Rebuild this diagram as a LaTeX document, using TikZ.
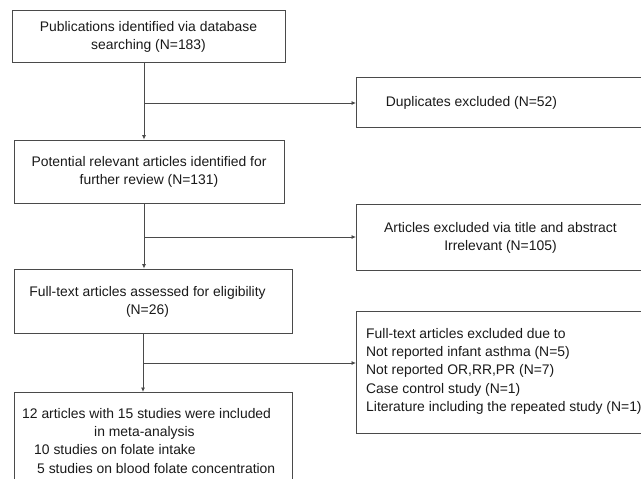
\documentclass[tikz,border=0pt]{standalone}
\usepackage{fontspec}
\setmainfont{Liberation Sans}
\usetikzlibrary{arrows.meta}
\definecolor{linec}{HTML}{4A4A4A}
\definecolor{textc}{HTML}{1A1A1A}
\begin{document}
\begin{tikzpicture}[x=1pt,y=-1pt,
  box/.style={draw=linec, line width=0.9pt, rectangle, inner sep=0pt},
  txt/.style={inner sep=0pt, text=textc, font=\fontsize{13.9}{18.3}\selectfont},
  arr/.style={draw=linec, line width=0.8pt, -{Latex[length=4.5pt,width=4pt]}},
  ln/.style={draw=linec, line width=0.8pt}]
\useasboundingbox (0,0) rectangle (641,479);
\clip (0,0) rectangle (641,479);
\fill[white] (0,0) rectangle (641,479);

% left column boxes
\node[box, minimum width=273pt, minimum height=52pt] (b1) at (148.5,36) {};
\node[txt, align=center] (t1) at (148.5,37) {Publications identified via database\\searching (N=183)};

\node[box, minimum width=270pt, minimum height=63pt] (b2) at (149,171.5) {};
\node[txt, align=center] (t2) at (149,172) {Potential relevant articles identified for\\further review (N=131)};

\node[box, minimum width=278pt, minimum height=64pt] (b3) at (153,301) {};
\node[txt, align=center] (t3) at (147.5,302) {Full-text articles assessed for eligibility\\(N=26)};

\node[box, minimum width=278pt, minimum height=110pt, anchor=north west] (b4) at (14,392) {};
\node[txt, align=left, anchor=north west] (t4) at (22,408) {12 articles with 15 studies were included\\
\hspace*{72pt}in meta-analysis\\
\hspace*{12pt}10 studies on folate intake\\
\hspace*{15pt}5 studies on blood folate concentration};

% right column boxes
\node[box, minimum width=289pt, minimum height=49.5pt, anchor=west] (d1) at (356,102.25) {};
\node[txt] (s1) at (471.5,103) {Duplicates excluded (N=52)};

\node[box, minimum width=289pt, minimum height=66pt, anchor=west] (d2) at (356,237) {};
\node[txt, align=center] (s2) at (500.5,238) {Articles excluded via title and abstract\\Irrelevant (N=105)};

\node[box, minimum width=289pt, minimum height=122pt, anchor=west] (d3) at (356,372) {};
\node[txt, align=left, anchor=north west] (s3) at (366,328) {Full-text articles excluded due to\\
Not reported infant asthma (N=5)\\
Not reported OR,RR,PR (N=7)\\
Case control study (N=1)\\
Literature including the repeated study (N=1)};

% spine and junctions
\coordinate (sp1) at (144,0);
\coordinate (sp3) at (143,0);
\coordinate (j1) at (144,103);
\coordinate (j2) at (144,237);
\coordinate (j3) at (143,363);

\draw[arr] (sp1 |- b1.south) -- (sp1 |- b2.north);
\draw[arr] (j1) -- (j1 -| d1.west);
\draw[arr] (sp1 |- b2.south) -- (sp1 |- b3.north);
\draw[arr] (j2) -- (j2 -| d2.west);
\draw[arr] (sp3 |- b3.south) -- (sp3 |- b4.north);
\draw[arr] (j3) -- (j3 -| d3.west);
\end{tikzpicture}
\end{document}
